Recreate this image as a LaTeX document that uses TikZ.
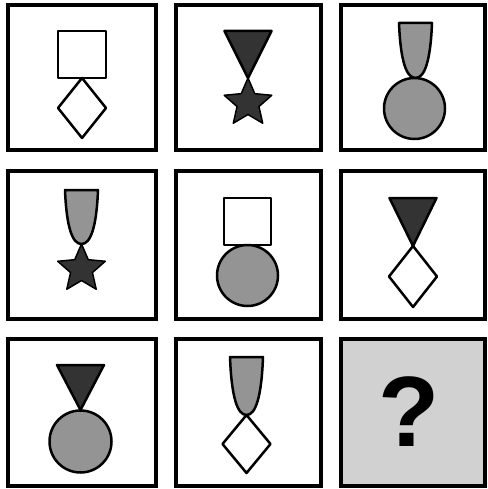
\documentclass[tikz,border=0pt]{standalone}
\usepackage{fontspec}
\setsansfont{Liberation Sans}

\tikzset{
  cell/.style={line width=4pt},
  part/.style={line width=2.5pt, line join=round},
  dark/.style={part, fill=black!80},
  midgrey/.style={part, fill=black!42}
}
\newcommand{\goblet}[3]{%
  \filldraw[midgrey] ({#1-16.5},#2) -- ({#1+16.5},#2)
    .. controls ({#1+15},{#2+0.7*#3}) and ({#1+9},{#2+#3}) .. (#1,{#2+#3})
    .. controls ({#1-9},{#2+#3}) and ({#1-15},{#2+0.7*#3}) .. cycle;}
\newcommand{\rhomb}[3]{%
  \draw[part] (#1,#2) -- ({#1+24},{(#2+#3)/2}) -- (#1,#3) -- ({#1-24},{(#2+#3)/2}) -- cycle;}
\newcommand{\medalstar}[2]{%
  \begin{scope}[shift={(#1,#2)}]
    \filldraw[dark, line width=1.5pt] (-90:25) -- (-54:11.5) -- (-18:25) -- (18:11.5)
      -- (54:25) -- (90:11.5) -- (126:25) -- (162:11.5) -- (198:25) -- (234:11.5) -- cycle;
  \end{scope}}

\begin{document}
\begin{tikzpicture}[x=1pt, y=-1pt]
  \useasboundingbox (0,0) rectangle (487,489);
  % the nine cells
  \draw[cell] (7.5,5.5) rectangle (155.5,150.5);
  \draw[cell] (175.5,5.5) rectangle (321,150.5);
  \draw[cell] (340.5,5.5) rectangle (485,150.5);
  \draw[cell] (7.5,171) rectangle (155.5,318.5);
  \draw[cell] (175.5,171) rectangle (321,318.5);
  \draw[cell] (340.5,171) rectangle (485,318.5);
  \draw[cell] (7.5,338.5) rectangle (155.5,485.5);
  \draw[cell] (175.5,338.5) rectangle (321,485.5);
  \filldraw[cell, fill=black!18] (340.5,338.5) rectangle (485,485.5);

  % row 1
  \draw[part] (58,31) rectangle (106,78);
  \rhomb{82}{78}{138}
  \filldraw[dark] (224.5,31) -- (271.5,31) -- (248,78) -- cycle;
  \medalstar{248}{103}
  \goblet{415.5}{23}{55}
  \filldraw[midgrey] (414.5,108.5) circle (30.5pt);

  % row 2
  \goblet{81.5}{190}{54}
  \medalstar{81.5}{269}
  \draw[part] (224,198) rectangle (271,245);
  \filldraw[midgrey] (247.5,275.5) circle (30.5pt);
  \filldraw[dark] (389.5,198) -- (436.5,198) -- (413,246) -- cycle;
  \rhomb{413}{246}{307}

  % row 3
  \filldraw[dark] (57,365) -- (104,365) -- (80.5,410) -- cycle;
  \filldraw[midgrey] (80.5,441.5) circle (31pt);
  \goblet{246.5}{357}{58}
  \rhomb{246.5}{415}{473}
  \node[font=\sffamily\bfseries\fontsize{100}{100}\selectfont, inner sep=0pt] (q) at (409,412) {?};
\end{tikzpicture}
\end{document}
